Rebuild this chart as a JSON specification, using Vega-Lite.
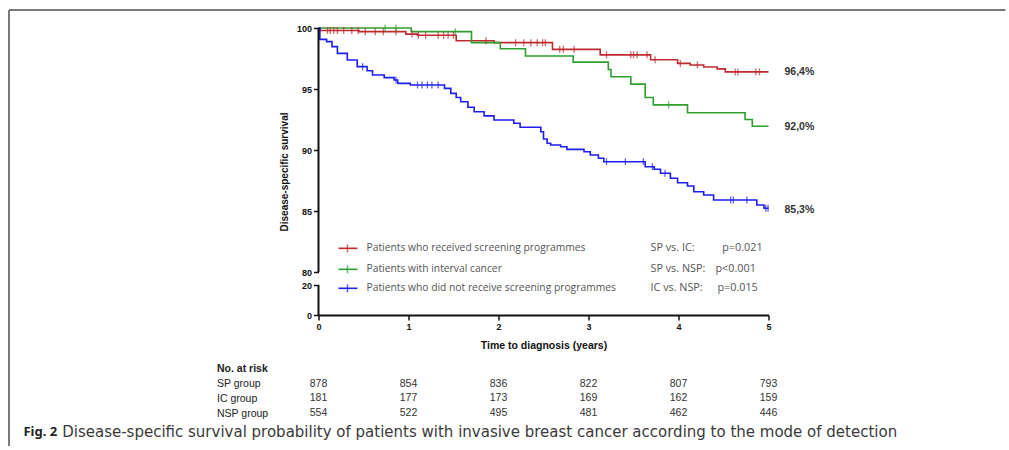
{
  "$schema": "https://vega.github.io/schema/vega-lite/v6.json",
  "background": "white",
  "padding": {"left": 7.5, "top": 9, "right": 0, "bottom": 0},
  "config": {
    "view": {"stroke": null},
    "axis": {"domainColor": "#111", "tickColor": "#111", "labelColor": "#111", "titleColor": "#111", "labelFont": "Liberation Sans", "titleFont": "Liberation Sans", "grid": false}
  },
  "datasets": {
    "curves": [
      {"group": "SP", "t": 0, "s": 100}, {"group": "SP", "t": 0.02, "s": 99.8}, {"group": "SP", "t": 0.45, "s": 99.7}, {"group": "SP", "t": 0.97, "s": 99.5}, {"group": "SP", "t": 1.1, "s": 99.4}, {"group": "SP", "t": 1.53, "s": 98.95}, {"group": "SP", "t": 1.95, "s": 98.8}, {"group": "SP", "t": 2.6, "s": 98.25}, {"group": "SP", "t": 3.13, "s": 97.8}, {"group": "SP", "t": 3.69, "s": 97.4}, {"group": "SP", "t": 3.99, "s": 97.1}, {"group": "SP", "t": 4.13, "s": 96.97}, {"group": "SP", "t": 4.28, "s": 96.8}, {"group": "SP", "t": 4.43, "s": 96.65}, {"group": "SP", "t": 4.52, "s": 96.4}, {"group": "SP", "t": 5.0, "s": 96.4},
      {"group": "IC", "t": 0, "s": 100}, {"group": "IC", "t": 1.03, "s": 99.7}, {"group": "IC", "t": 1.7, "s": 98.8}, {"group": "IC", "t": 2.02, "s": 98.3}, {"group": "IC", "t": 2.3, "s": 97.7}, {"group": "IC", "t": 2.83, "s": 97.2}, {"group": "IC", "t": 3.22, "s": 96.6}, {"group": "IC", "t": 3.25, "s": 96.0}, {"group": "IC", "t": 3.47, "s": 95.4}, {"group": "IC", "t": 3.63, "s": 94.3}, {"group": "IC", "t": 3.72, "s": 93.7}, {"group": "IC", "t": 4.1, "s": 93.05}, {"group": "IC", "t": 4.74, "s": 92.5}, {"group": "IC", "t": 4.82, "s": 91.95}, {"group": "IC", "t": 5.0, "s": 91.95},
      {"group": "NSP", "t": 0, "s": 100}, {"group": "NSP", "t": 0.015, "s": 99.07}, {"group": "NSP", "t": 0.09, "s": 98.88}, {"group": "NSP", "t": 0.15, "s": 98.47}, {"group": "NSP", "t": 0.21, "s": 97.92}, {"group": "NSP", "t": 0.32, "s": 97.38}, {"group": "NSP", "t": 0.43, "s": 96.83}, {"group": "NSP", "t": 0.54, "s": 96.5}, {"group": "NSP", "t": 0.6, "s": 96.15}, {"group": "NSP", "t": 0.73, "s": 95.93}, {"group": "NSP", "t": 0.84, "s": 95.74}, {"group": "NSP", "t": 0.88, "s": 95.46}, {"group": "NSP", "t": 1.02, "s": 95.33}, {"group": "NSP", "t": 1.4, "s": 95.05}, {"group": "NSP", "t": 1.47, "s": 94.64}, {"group": "NSP", "t": 1.53, "s": 94.3}, {"group": "NSP", "t": 1.58, "s": 93.96}, {"group": "NSP", "t": 1.66, "s": 93.5}, {"group": "NSP", "t": 1.73, "s": 93.14}, {"group": "NSP", "t": 1.84, "s": 92.8}, {"group": "NSP", "t": 1.95, "s": 92.46}, {"group": "NSP", "t": 2.17, "s": 92.19}, {"group": "NSP", "t": 2.24, "s": 91.86}, {"group": "NSP", "t": 2.47, "s": 91.5}, {"group": "NSP", "t": 2.5, "s": 90.9}, {"group": "NSP", "t": 2.54, "s": 90.55}, {"group": "NSP", "t": 2.58, "s": 90.41}, {"group": "NSP", "t": 2.69, "s": 90.27}, {"group": "NSP", "t": 2.76, "s": 90.05}, {"group": "NSP", "t": 2.95, "s": 89.86}, {"group": "NSP", "t": 3.02, "s": 89.59}, {"group": "NSP", "t": 3.11, "s": 89.32}, {"group": "NSP", "t": 3.17, "s": 89.04}, {"group": "NSP", "t": 3.63, "s": 88.63}, {"group": "NSP", "t": 3.73, "s": 88.42}, {"group": "NSP", "t": 3.8, "s": 88.09}, {"group": "NSP", "t": 3.91, "s": 87.68}, {"group": "NSP", "t": 3.99, "s": 87.32}, {"group": "NSP", "t": 4.1, "s": 87.05}, {"group": "NSP", "t": 4.17, "s": 86.58}, {"group": "NSP", "t": 4.28, "s": 86.31}, {"group": "NSP", "t": 4.39, "s": 85.9}, {"group": "NSP", "t": 4.87, "s": 85.49}, {"group": "NSP", "t": 4.95, "s": 85.22}, {"group": "NSP", "t": 5.0, "s": 85.22}
    ],
    "censor": [
      {"group": "SP", "t": 0.10, "s": 99.8}, {"group": "SP", "t": 0.13, "s": 99.8}, {"group": "SP", "t": 0.17, "s": 99.8}, {"group": "SP", "t": 0.21, "s": 99.8}, {"group": "SP", "t": 0.28, "s": 99.8}, {"group": "SP", "t": 0.37, "s": 99.8}, {"group": "SP", "t": 0.44, "s": 99.8},
      {"group": "SP", "t": 0.52, "s": 99.7}, {"group": "SP", "t": 0.63, "s": 99.7}, {"group": "SP", "t": 0.72, "s": 99.7}, {"group": "SP", "t": 0.86, "s": 99.7}, {"group": "SP", "t": 1.04, "s": 99.5},
      {"group": "SP", "t": 1.11, "s": 99.4}, {"group": "SP", "t": 1.19, "s": 99.4}, {"group": "SP", "t": 1.33, "s": 99.4}, {"group": "SP", "t": 1.39, "s": 99.4}, {"group": "SP", "t": 1.44, "s": 99.4}, {"group": "SP", "t": 1.5, "s": 99.4},
      {"group": "SP", "t": 1.86, "s": 98.95}, {"group": "SP", "t": 2.19, "s": 98.8}, {"group": "SP", "t": 2.28, "s": 98.8}, {"group": "SP", "t": 2.36, "s": 98.8}, {"group": "SP", "t": 2.43, "s": 98.8}, {"group": "SP", "t": 2.49, "s": 98.8}, {"group": "SP", "t": 2.52, "s": 98.8},
      {"group": "SP", "t": 2.68, "s": 98.25}, {"group": "SP", "t": 2.72, "s": 98.25}, {"group": "SP", "t": 2.84, "s": 98.25}, {"group": "SP", "t": 3.2, "s": 97.8}, {"group": "SP", "t": 3.47, "s": 97.8}, {"group": "SP", "t": 3.5, "s": 97.8}, {"group": "SP", "t": 3.54, "s": 97.8}, {"group": "SP", "t": 3.65, "s": 97.8},
      {"group": "SP", "t": 3.74, "s": 97.4}, {"group": "SP", "t": 4.02, "s": 97.1}, {"group": "SP", "t": 4.21, "s": 96.97}, {"group": "SP", "t": 4.63, "s": 96.4}, {"group": "SP", "t": 4.66, "s": 96.4}, {"group": "SP", "t": 4.86, "s": 96.4}, {"group": "SP", "t": 4.9, "s": 96.4},
      {"group": "IC", "t": 0.74, "s": 100}, {"group": "IC", "t": 0.86, "s": 100}, {"group": "IC", "t": 1.52, "s": 99.7}, {"group": "IC", "t": 3.89, "s": 93.7},
      {"group": "NSP", "t": 0.49, "s": 96.83}, {"group": "NSP", "t": 0.86, "s": 95.74}, {"group": "NSP", "t": 1.1, "s": 95.33}, {"group": "NSP", "t": 1.15, "s": 95.33}, {"group": "NSP", "t": 1.21, "s": 95.33}, {"group": "NSP", "t": 1.26, "s": 95.33}, {"group": "NSP", "t": 1.33, "s": 95.33},
      {"group": "NSP", "t": 3.2, "s": 89.04}, {"group": "NSP", "t": 3.41, "s": 89.04}, {"group": "NSP", "t": 3.61, "s": 89.04}, {"group": "NSP", "t": 3.71, "s": 88.63}, {"group": "NSP", "t": 3.85, "s": 88.09}, {"group": "NSP", "t": 4.58, "s": 85.9}, {"group": "NSP", "t": 4.61, "s": 85.9}, {"group": "NSP", "t": 4.76, "s": 85.9}, {"group": "NSP", "t": 4.97, "s": 85.22}, {"group": "NSP", "t": 4.995, "s": 85.22}
    ],
    "risk": [
      {"group": "SP group", "t": 0, "n": 878}, {"group": "SP group", "t": 1, "n": 854}, {"group": "SP group", "t": 2, "n": 836}, {"group": "SP group", "t": 3, "n": 822}, {"group": "SP group", "t": 4, "n": 807}, {"group": "SP group", "t": 5, "n": 793},
      {"group": "IC group", "t": 0, "n": 181}, {"group": "IC group", "t": 1, "n": 177}, {"group": "IC group", "t": 2, "n": 173}, {"group": "IC group", "t": 3, "n": 169}, {"group": "IC group", "t": 4, "n": 162}, {"group": "IC group", "t": 5, "n": 159},
      {"group": "NSP group", "t": 0, "n": 554}, {"group": "NSP group", "t": 1, "n": 522}, {"group": "NSP group", "t": 2, "n": 495}, {"group": "NSP group", "t": 3, "n": 481}, {"group": "NSP group", "t": 4, "n": 462}, {"group": "NSP group", "t": 5, "n": 446}
    ]
  },
  "vconcat": [
    {
      "width": 450,
      "height": 287,
      "data": {"values": [{}]},
      "layer": [
        {
          "data": {"name": "curves"},
          "mark": {"type": "line", "interpolate": "step-after", "strokeWidth": 1.6},
          "encoding": {
            "x": {"field": "t", "type": "quantitative", "scale": {"domain": [0, 5], "nice": false},
              "axis": {"values": [0, 1, 2, 3, 4, 5], "format": "d", "domainWidth": 2, "tickSize": 5, "tickWidth": 1.5, "labelFontSize": 9, "labelFontWeight": "bold", "labelPadding": 2, "labelFlush": false, "title": "Time to diagnosis (years)", "titleFontSize": 10.5, "titleFontWeight": "bold", "titlePadding": 9}},
            "y": {"field": "s", "type": "quantitative", "scale": {"domain": [0, 20, 80, 100], "range": [287, 257, 244, 0], "nice": false, "zero": false},
              "axis": {"values": [0, 20, 80, 85, 90, 95, 100], "format": "d", "domain": false, "tickSize": 5, "tickWidth": 1.5, "labelFontSize": 9, "labelFontWeight": "bold", "labelPadding": 2, "title": "Disease-specific survival", "titleFontSize": 10, "titleFontWeight": "bold", "titlePadding": 7}},
            "color": {"field": "group", "type": "nominal", "scale": {"domain": ["SP", "IC", "NSP"], "range": ["#bf2a2e", "#2e9e2e", "#1e1ef0"]}, "legend": null}
          }
        },
        {
          "data": {"name": "censor"},
          "mark": {"type": "tick", "orient": "vertical", "size": 7, "thickness": 1.3},
          "encoding": {
            "x": {"field": "t", "type": "quantitative"},
            "y": {"field": "s", "type": "quantitative"},
            "color": {"field": "group", "type": "nominal", "legend": null}
          }
        },
        {"mark": {"type": "rule", "color": "#111", "strokeWidth": 2}, "encoding": {"x": {"datum": 0}, "y": {"datum": 80}, "y2": {"datum": 100}}},
        {"mark": {"type": "rule", "color": "#111", "strokeWidth": 2}, "encoding": {"x": {"datum": 0}, "y": {"datum": 0}, "y2": {"datum": 20}}},
        {"mark": {"type": "text", "align": "left", "dx": 16, "fontSize": 10.5, "fontWeight": "bold", "font": "Liberation Sans", "color": "#333", "text": "96,4%"}, "encoding": {"x": {"datum": 5}, "y": {"datum": 96.4}}},
        {"mark": {"type": "text", "align": "left", "dx": 16, "fontSize": 10.5, "fontWeight": "bold", "font": "Liberation Sans", "color": "#333", "text": "92,0%"}, "encoding": {"x": {"datum": 5}, "y": {"datum": 91.9}}},
        {"mark": {"type": "text", "align": "left", "dx": 16, "fontSize": 10.5, "fontWeight": "bold", "font": "Liberation Sans", "color": "#333", "text": "85,3%"}, "encoding": {"x": {"datum": 5}, "y": {"datum": 85.08}}},
        {"mark": {"type": "rule", "color": "#bf2a2e", "strokeWidth": 1.6}, "encoding": {"x": {"datum": 0.222}, "x2": {"datum": 0.433}, "y": {"datum": 81.94}}},
        {"mark": {"type": "tick", "orient": "vertical", "size": 8, "thickness": 1.5, "color": "#bf2a2e"}, "encoding": {"x": {"datum": 0.322}, "y": {"datum": 81.94}}},
        {"mark": {"type": "text", "align": "left", "fontSize": 10.3, "font": "Open Sans", "color": "#555", "text": "Patients who received screening programmes"}, "encoding": {"x": {"datum": 0.533}, "y": {"datum": 81.94}}},
        {"mark": {"type": "rule", "color": "#2e9e2e", "strokeWidth": 1.6}, "encoding": {"x": {"datum": 0.222}, "x2": {"datum": 0.433}, "y": {"datum": 80.22}}},
        {"mark": {"type": "tick", "orient": "vertical", "size": 8, "thickness": 1.5, "color": "#2e9e2e"}, "encoding": {"x": {"datum": 0.322}, "y": {"datum": 80.22}}},
        {"mark": {"type": "text", "align": "left", "fontSize": 10.3, "font": "Open Sans", "color": "#555", "text": "Patients with interval cancer"}, "encoding": {"x": {"datum": 0.533}, "y": {"datum": 80.22}}},
        {"mark": {"type": "rule", "color": "#1e1ef0", "strokeWidth": 1.6}, "encoding": {"x": {"datum": 0.222}, "x2": {"datum": 0.433}, "y": {"datum": 17.8}}},
        {"mark": {"type": "tick", "orient": "vertical", "size": 8, "thickness": 1.5, "color": "#1e1ef0"}, "encoding": {"x": {"datum": 0.322}, "y": {"datum": 17.8}}},
        {"mark": {"type": "text", "align": "left", "fontSize": 10.3, "font": "Open Sans", "color": "#555", "text": "Patients who did not receive screening programmes"}, "encoding": {"x": {"datum": 0.533}, "y": {"datum": 17.8}}},
        {"mark": {"type": "text", "align": "left", "fontSize": 10.8, "font": "Open Sans", "color": "#555", "text": "SP vs. IC:"}, "encoding": {"x": {"datum": 3.689}, "y": {"datum": 81.94}}},
        {"mark": {"type": "text", "align": "left", "fontSize": 10.8, "font": "Open Sans", "color": "#555", "text": "p=0.021"}, "encoding": {"x": {"datum": 4.486}, "y": {"datum": 81.94}}},
        {"mark": {"type": "text", "align": "left", "fontSize": 10.8, "font": "Open Sans", "color": "#555", "text": "SP vs. NSP:"}, "encoding": {"x": {"datum": 3.689}, "y": {"datum": 80.22}}},
        {"mark": {"type": "text", "align": "left", "fontSize": 10.8, "font": "Open Sans", "color": "#555", "text": "p<0.001"}, "encoding": {"x": {"datum": 4.411}, "y": {"datum": 80.22}}},
        {"mark": {"type": "text", "align": "left", "fontSize": 10.8, "font": "Open Sans", "color": "#555", "text": "IC vs. NSP:"}, "encoding": {"x": {"datum": 3.689}, "y": {"datum": 17.8}}},
        {"mark": {"type": "text", "align": "left", "fontSize": 10.8, "font": "Open Sans", "color": "#555", "text": "p=0.015"}, "encoding": {"x": {"datum": 4.433}, "y": {"datum": 17.8}}},
        {"mark": {"type": "rule", "color": "#7a7a7a", "strokeWidth": 2}, "encoding": {"x": {"datum": -3.439}, "x2": {"datum": 7.633}, "y": {"datum": 101.475}}},
        {"mark": {"type": "rule", "color": "#7a7a7a", "strokeWidth": 2}, "encoding": {"x": {"datum": -3.439}, "y": {"datum": 101.475}, "y2": {"datum": -87.3}}}
      ]
    },
    {
      "width": 450,
      "height": 59,
      "data": {"values": [{}]},
      "layer": [
        {
          "data": {"name": "risk"},
          "mark": {"type": "text", "fontSize": 10.5, "font": "Liberation Sans", "color": "#333"},
          "encoding": {
            "x": {"field": "t", "type": "quantitative", "scale": {"domain": [0, 5], "nice": false}, "axis": null},
            "y": {"field": "group", "type": "nominal", "scale": {"domain": ["No. at risk", "SP group", "IC group", "NSP group"]},
              "axis": {"title": null, "ticks": false, "tickSize": 0, "domain": false, "labelAlign": "left", "labelPadding": 102, "labelFontSize": 10.5, "labelColor": "#222", "labelFont": "Liberation Sans",
                "labelFontWeight": {"condition": {"test": "datum.value === 'No. at risk'", "value": "bold"}, "value": "normal"}}},
            "text": {"field": "n", "type": "quantitative"}
          }
        },
        {"mark": {"type": "text", "align": "left", "dy": 19, "fontSize": 13, "fontWeight": "bold", "font": "Noto Sans", "color": "#222", "text": "Fig. 2"}, "encoding": {"x": {"datum": -3.278}, "y": {"datum": "NSP group", "type": "nominal"}}},
        {"mark": {"type": "text", "align": "left", "dy": 19, "fontSize": 15, "font": "DejaVu Sans", "color": "#3a3a3a", "text": "Disease-specific survival probability of patients with invasive breast cancer according to the mode of detection"}, "encoding": {"x": {"datum": -2.848}, "y": {"datum": "NSP group", "type": "nominal"}}}
      ]
    }
  ],
  "spacing": 46.6,
  "bounds": "flush"
}
